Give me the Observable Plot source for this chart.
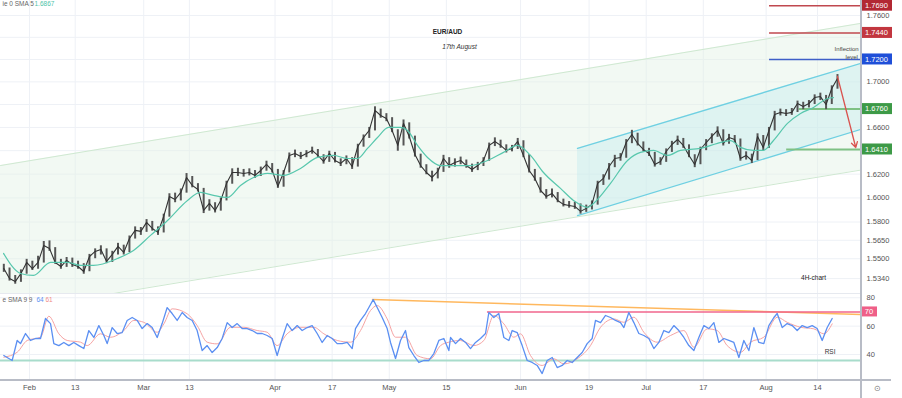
<!DOCTYPE html>
<html><head><meta charset="utf-8">
<script src="https://cdn.jsdelivr.net/npm/d3@7"></script>
<script src="https://cdn.jsdelivr.net/npm/@observablehq/plot@0.6"></script>
<style>
body{margin:0;background:#fff;font-family:"Liberation Sans",Arial,sans-serif}
#wrap{position:relative;width:902px;height:398px;overflow:hidden;background:#fff}
#wrap svg{position:absolute;left:0}
.vline{position:absolute;left:860px;top:0;width:1.5px;height:398px;background:#b8bcc6}
.hline{position:absolute;left:0;top:379px;width:891px;height:1.5px;background:#b8bcc6}
.sep{position:absolute;left:0;top:293px;width:860px;height:1px;background:#e6e9ef}
</style></head><body><div id="wrap"></div>
<script>
// ---------- DATA ----------
const firstDay = "2023-01-25", lastDay = "2023-08-17";
const tickDates = ["2023-02-01","2023-02-13","2023-03-01","2023-03-13","2023-04-03","2023-04-17","2023-05-01","2023-05-15","2023-06-01","2023-06-19","2023-07-03","2023-07-17","2023-08-01","2023-08-14"];
const tickLabels = ["Feb","13","Mar","13","Apr","17","May","15","Jun","19","Jul","17","Aug","14"];
const priceGrid = [1.76,1.74,1.72,1.70,1.68,1.66,1.64,1.62,1.60,1.58,1.565,1.55,1.534];
const priceTickLabels = [1.76,1.70,1.66,1.62,1.60,1.58,1.565,1.55,1.534];
const rsiTicks = [80,60,40];

const closes = [1.5421,1.5340,1.5316,1.5381,1.5470,1.5421,1.5470,1.5608,1.5583,1.5470,
1.5437,1.5486,1.5454,1.5437,1.5397,1.5518,1.5559,1.5575,1.5478,1.5535,
1.5600,1.5551,1.5665,1.5731,1.5723,1.5797,1.5747,1.5715,1.5846,1.6012,
1.5987,1.6046,1.6172,1.6105,1.6071,1.5896,1.5954,1.5896,1.5979,1.6122,
1.6214,1.6214,1.6206,1.6214,1.6189,1.6231,1.6282,1.6231,1.6097,1.6214,
1.6359,1.6376,1.6350,1.6376,1.6402,1.6359,1.6308,1.6376,1.6316,1.6291,
1.6333,1.6265,1.6436,1.6513,1.6574,1.6748,1.6704,1.6678,1.6574,1.6445,
1.6635,1.6522,1.6367,1.6273,1.6214,1.6172,1.6223,1.6333,1.6273,1.6299,
1.6316,1.6273,1.6240,1.6273,1.6316,1.6445,1.6479,1.6445,1.6402,1.6419,
1.6479,1.6359,1.6231,1.6164,1.6063,1.6012,1.6038,1.5979,1.5946,1.5937,
1.5929,1.5888,1.5913,1.5946,1.6122,1.6164,1.6265,1.6333,1.6342,1.6470,
1.6539,1.6462,1.6410,1.6376,1.6282,1.6308,1.6393,1.6453,1.6496,1.6445,
1.6359,1.6282,1.6410,1.6470,1.6522,1.6574,1.6462,1.6513,1.6496,1.6333,
1.6359,1.6316,1.6522,1.6428,1.6574,1.6713,1.6731,1.6722,1.6731,1.6809,
1.6783,1.6809,1.6861,1.6870,1.6800,1.6941,1.7030];
const highs = [1.5455,1.5425,1.5365,1.5410,1.5495,1.5480,1.5520,1.5640,1.5645,1.5590,
1.5495,1.5510,1.5505,1.5480,1.5460,1.5535,1.5580,1.5605,1.5580,1.5560,
1.5625,1.5610,1.5685,1.5760,1.5755,1.5820,1.5805,1.5760,1.5865,1.6035,
1.6040,1.6075,1.6205,1.6180,1.6120,1.6080,1.5985,1.5960,1.6000,1.6140,
1.6245,1.6250,1.6240,1.6245,1.6230,1.6260,1.6310,1.6290,1.6240,1.6230,
1.6380,1.6405,1.6385,1.6400,1.6430,1.6410,1.6365,1.6395,1.6385,1.6330,
1.6355,1.6340,1.6455,1.6535,1.6600,1.6780,1.6760,1.6720,1.6685,1.6580,
1.6665,1.6640,1.6525,1.6370,1.6280,1.6225,1.6250,1.6360,1.6340,1.6330,
1.6345,1.6320,1.6285,1.6300,1.6340,1.6465,1.6510,1.6490,1.6450,1.6445,
1.6505,1.6485,1.6365,1.6240,1.6170,1.6070,1.6075,1.6045,1.5990,1.5970,
1.5965,1.5950,1.5940,1.5975,1.6140,1.6195,1.6290,1.6360,1.6375,1.6495,
1.6575,1.6550,1.6475,1.6420,1.6385,1.6340,1.6415,1.6480,1.6525,1.6505,
1.6450,1.6365,1.6430,1.6495,1.6545,1.6605,1.6580,1.6540,1.6530,1.6500,
1.6390,1.6370,1.6545,1.6530,1.6600,1.6740,1.6760,1.6755,1.6765,1.6830,
1.6820,1.6835,1.6885,1.6900,1.6880,1.6965,1.7065];
const lows = [1.5390,1.5320,1.5295,1.5310,1.5375,1.5405,1.5415,1.5465,1.5560,1.5455,
1.5415,1.5430,1.5430,1.5415,1.5375,1.5395,1.5500,1.5530,1.5460,1.5470,
1.5530,1.5530,1.5550,1.5660,1.5690,1.5715,1.5725,1.5690,1.5710,1.5840,
1.5960,1.5975,1.6040,1.6085,1.6050,1.5870,1.5890,1.5875,1.5890,1.5975,
1.6115,1.6180,1.6175,1.6185,1.6165,1.6180,1.6225,1.6210,1.6080,1.6090,
1.6210,1.6340,1.6325,1.6340,1.6370,1.6340,1.6285,1.6300,1.6295,1.6265,
1.6280,1.6240,1.6260,1.6430,1.6505,1.6570,1.6680,1.6650,1.6555,1.6395,
1.6440,1.6500,1.6345,1.6250,1.6195,1.6135,1.6160,1.6215,1.6250,1.6260,
1.6280,1.6250,1.6215,1.6230,1.6265,1.6310,1.6435,1.6420,1.6380,1.6390,
1.6410,1.6340,1.6210,1.6140,1.6040,1.5990,1.6000,1.5960,1.5925,1.5915,
1.5905,1.5865,1.5880,1.5900,1.5940,1.6105,1.6150,1.6255,1.6310,1.6335,
1.6460,1.6440,1.6390,1.6350,1.6260,1.6275,1.6300,1.6385,1.6445,1.6420,
1.6340,1.6255,1.6280,1.6400,1.6460,1.6515,1.6440,1.6455,1.6470,1.6310,
1.6320,1.6290,1.6315,1.6400,1.6420,1.6570,1.6700,1.6695,1.6705,1.6730,
1.6755,1.6770,1.6800,1.6835,1.6755,1.6800,1.6935];

// SMA 5 (teal) read at bar positions
const smaPos = [0.45,3.42,5.70,8.68,11.66,13.93,16.21,20.41,23.21,26.19,29.17,32.67,34.95,37.22,39.68,41.95,44.23,46.68,49.48,52.46,55.44,58.24,60.69,62.44,64.19,65.94,67.87,69.97,71.20,72.95,74.70,76.98,79.96,82.23,85.21,88.01,90.46,92.74,95.01,97.99,100.27,102.72,103.77,106.75,109.73,112.00,114.28,116.73,119.00,122.51,125.48,127.76,129.51,131.79,133.54,135.29,137.74,140.03,142.30,144.75,145.80];
const smaVal = [1.5543,1.5381,1.5365,1.5470,1.5470,1.5446,1.5446,1.5502,1.5567,1.5690,1.5813,1.5979,1.6046,1.6021,1.6004,1.6105,1.6172,1.6206,1.6189,1.6248,1.6342,1.6359,1.6333,1.6333,1.6419,1.6513,1.6600,1.6600,1.6574,1.6445,1.6342,1.6273,1.6273,1.6273,1.6316,1.6385,1.6445,1.6359,1.6214,1.6080,1.5979,1.5921,1.5954,1.6122,1.6316,1.6385,1.6402,1.6359,1.6402,1.6419,1.6462,1.6487,1.6428,1.6402,1.6402,1.6487,1.6635,1.6722,1.6774,1.6853,1.6861];

// RSI (blue)
const rsiPos = [0.50,1.96,2.84,3.42,4.30,5.17,6.05,6.93,7.80,8.68,9.26,10.14,11.01,11.89,12.76,13.64,14.51,15.39,16.27,17.14,18.02,18.60,19.48,20.35,21.23,22.10,22.98,23.86,24.73,25.61,26.48,27.36,28.23,29.11,29.98,30.86,31.74,32.61,33.49,34.36,35.24,36.11,36.99,37.87,38.74,39.62,40.49,41.37,42.24,43.12,44.00,44.87,45.75,46.62,47.50,48.37,49.25,50.12,51.00,51.88,52.75,53.63,54.50,55.38,56.25,57.13,58.01,58.88,59.76,60.63,61.51,62.09,62.97,63.84,64.43,65.19,65.89,66.76,67.64,68.22,69.10,69.97,70.85,71.43,72.31,73.18,74.06,74.94,75.81,76.69,77.56,78.44,
78.73,79.61,80.48,81.36,82.23,83.11,83.98,84.86,85.44,86.32,87.19,88.07,88.95,89.53,90.41,91.28,92.16,93.03,93.91,94.78,95.66,96.54,97.41,98.29,99.16,100.04,100.91,101.79,102.66,103.54,104.12,105.00,105.88,106.75,107.63,108.50,109.09,109.96,110.84,111.71,112.59,113.46,114.34,115.22,116.09,116.97,117.84,118.72,119.60,120.47,121.35,122.22,123.10,123.97,124.85,125.72,126.60,127.47,128.35,129.23,130.10,130.98,131.85,132.73,133.60,134.48,135.36,135.94,136.82,137.69,138.57,139.44,140.32,141.19,142.07,142.94,143.82,144.70,145.57];
const rsiVal = [39.3,35.8,49.9,47.7,54.8,49.9,51.3,51.3,65.4,61.8,47.7,46.3,48.5,46.3,48.5,46.3,44.2,56.9,52.0,60.4,53.4,47.7,59.0,54.8,55.5,64.0,66.1,64.0,58.3,61.8,59.0,52.0,61.8,73.1,68.9,64.0,69.6,66.1,64.0,56.9,42.8,46.3,41.4,44.9,51.3,62.5,59.0,61.8,58.3,58.3,56.9,54.8,54.8,53.4,51.3,39.3,51.3,61.8,56.9,60.4,56.9,59.0,60.4,54.8,48.5,53.4,51.3,47.7,47.7,48.5,44.2,58.3,64.0,68.9,73.1,78.7,73.1,66.1,58.3,48.5,37.2,49.9,56.9,44.9,39.3,34.4,35.8,35.8,40.7,49.9,51.3,42.8,
52.0,47.7,51.3,48.5,44.2,48.5,51.3,54.8,69.6,66.1,68.9,52.0,49.9,56.9,55.5,46.3,35.8,34.4,32.3,26.6,35.8,37.9,30.8,32.3,35.8,34.4,37.9,41.4,47.7,51.3,64.0,62.5,67.5,66.1,64.0,62.5,59.0,69.6,62.5,54.8,53.4,51.3,44.2,48.5,56.9,55.5,60.4,56.9,52.0,46.3,42.8,52.0,60.4,58.3,62.5,48.5,51.3,49.9,48.5,37.9,49.9,42.8,59.0,48.5,47.7,60.4,66.1,68.9,59.0,61.8,60.4,56.9,60.4,59.0,60.4,58.3,49.9,59.0,65.4];

// SMA 9 of RSI (pink)
const rsiSmaPos = [0.50,2.84,4.59,6.93,8.38,10.14,11.60,13.93,15.10,17.43,19.18,21.52,23.27,25.02,27.36,28.53,29.98,32.61,34.36,36.11,37.87,40.20,42.54,44.87,46.62,48.37,50.12,52.46,54.79,56.55,58.88,61.22,62.97,64.72,65.89,67.64,69.10,70.85,72.89,75.23,76.98,78.44,
80.48,82.82,84.57,86.32,88.07,89.82,90.99,92.74,94.78,96.83,98.58,100.91,103.25,105.00,107.34,109.09,110.84,112.59,114.92,117.26,119.60,121.35,123.68,125.43,127.18,129.52,131.27,133.60,135.94,137.69,140.03,142.36,144.11,145.57];
const rsiSmaVal = [38.1,41.6,49.9,52.2,67.0,54.6,49.9,48.7,46.3,54.6,52.2,56.9,64.0,62.7,55.7,61.6,72.2,68.7,60.4,48.7,47.5,59.2,59.2,56.9,55.7,46.3,54.6,59.2,59.2,54.6,49.9,48.7,56.9,71.0,74.5,65.1,52.2,52.2,39.3,37.0,46.3,48.7,
49.9,46.3,49.9,67.5,61.6,52.2,54.6,39.3,32.3,37.0,33.4,37.0,46.3,59.2,65.1,62.7,66.3,55.7,48.7,53.4,56.9,45.1,58.1,56.9,46.3,41.6,48.7,52.2,66.3,62.7,59.2,58.1,54.6,61.6];

// Drawn channels and levels (bar position, price)
const outerChannelPos = [-0.08, 150.53];
const outerUpper = [1.6273, 1.7527];
const outerLower = [1.5074, 1.6234];
const innerChannelPos = [100.97, 150.53];
const innerUpper = [1.6419, 1.7164];
const innerLower = [1.5853, 1.6582];
const levelValues = [1.7690, 1.7440, 1.7200, 1.6760, 1.6410];
const levelFrom = [134.6, 134.6, 134.6, 139.8, 137.6];
const arrowFrom = [146.5, 1.7048], arrowTo = [149.7, 1.6427];
const rsiOverbought = 70, rsiLowLine = 35.8;
const rsiTrendPos = [65.07, 150.53], rsiTrendVal = [78.7, 68.2];

// ---------- BUILD ----------
const days = d3.utcDay.range(new Date(firstDay), d3.utcDay.offset(new Date(lastDay), 1))
  .filter(d => d.getUTCDay() !== 0 && d.getUTCDay() !== 6);
const dayKey = d3.utcFormat("%Y-%m-%d");
const dayIndex = new Map(days.map((d, i) => [dayKey(d), i]));
const bars = days.map((d, i) => ({pos: i + 0.5, close: closes[i], high: highs[i], low: lows[i]}));
const tickPos = tickDates.map(t => dayIndex.get(t));
const tickLabelAt = new Map(tickPos.map((p, i) => [p, tickLabels[i]]));
const sma = smaPos.map((p, i) => ({pos: p, v: smaVal[i]}));
const rsi = rsiPos.map((p, i) => ({pos: p, v: rsiVal[i]}));
const rsiSma = rsiSmaPos.map((p, i) => ({pos: p, v: rsiSmaVal[i]}));
const outer = outerChannelPos.map((p, i) => ({pos: p, lo: outerLower[i], hi: outerUpper[i]}));
const inner = innerChannelPos.map((p, i) => ({pos: p, lo: innerLower[i], hi: innerUpper[i]}));
const levels = levelValues.map((v, i) => ({v, from: levelFrom[i]}));
const rsiTrend = rsiTrendPos.map((p, i) => ({pos: p, v: rsiTrendVal[i]}));

const W = 902, R = 42, xDomain = [-0.08, 150.53];
const FONT = "Liberation Sans, Arial, sans-serif";
const grid = "#eef1f6";
const levelStroke = ["#c0484f", "#c0484f", "#3f5fc8", "#7fc184", "#7fc184"];
const levelFill = ["#b22833", "#c2363f", "#1f4fd8", "#3d9a47", "#3d9a47"];
const fmt4 = d3.format(".4f");

const main = Plot.plot({
  width: W, height: 293, marginLeft: 0, marginRight: R, marginTop: 0, marginBottom: 0,
  x: {domain: xDomain, axis: null},
  y: {type: "log", domain: [1.5221, 1.7738], axis: null},
  style: {fontFamily: FONT, fontSize: "7.5px", color: "#555", background: "transparent"},
  marks: [
    Plot.ruleX(tickPos, {stroke: grid}),
    Plot.ruleY(priceGrid, {stroke: grid}),
    Plot.areaY(outer, {x: "pos", y1: "lo", y2: "hi", fill: "#e3f2e5", fillOpacity: 0.45, clip: true}),
    Plot.line(outer, {x: "pos", y: "hi", stroke: "#cfe8d1", strokeWidth: 1, clip: true}),
    Plot.line(outer, {x: "pos", y: "lo", stroke: "#cfe8d1", strokeWidth: 1, clip: true}),
    Plot.areaY(inner, {x: "pos", y1: "lo", y2: "hi", fill: "#b9e8ef", fillOpacity: 0.35, clip: true}),
    Plot.line(inner, {x: "pos", y: "hi", stroke: "#6fd0e2", strokeWidth: 1.3, clip: true}),
    Plot.line(inner, {x: "pos", y: "lo", stroke: "#6fd0e2", strokeWidth: 1.3, clip: true}),
    Plot.ruleY(levels, {y: "v", x1: "from", x2: xDomain[1], stroke: (d, i) => levelStroke[i], strokeWidth: (d, i) => i > 2 ? 2 : 1.5, clip: true}),
    Plot.ruleX(bars, {x: "pos", y1: "low", y2: "high", stroke: "#555", strokeWidth: 2}),
    Plot.line(bars, {x: "pos", y: "close", stroke: "#333", strokeWidth: 1.1}),
    Plot.line(sma, {x: "pos", y: "v", stroke: "#58c7ad", strokeWidth: 1.2, curve: "monotone-x"}),
    Plot.arrow([0], {x1: arrowFrom[0], y1: arrowFrom[1], x2: arrowTo[0], y2: arrowTo[1], stroke: "#d9534f", strokeWidth: 1.3, headLength: 7}),
    Plot.axisY({anchor: "right", label: null, ticks: priceTickLabels, tickFormat: fmt4, tickSize: 0, tickPadding: 6, fontSize: 7.5, fill: "#555"}),
    Plot.text(["EUR/AUD"], {x: 78.2, y: 1.7453, fontSize: 6.5, fontWeight: "bold", fill: "#222"}),
    Plot.text(["17th August"], {x: 80.3, y: 1.7309, fontSize: 6.5, fontStyle: "italic", fill: "#333"}),
    Plot.text(["4H-chart"], {x: 142.3, y: 1.5348, fontSize: 6.5, fill: "#222"}),
    Plot.text(["Inflection"], {x: 148.1, y: 1.7290, fontSize: 6, fill: "#444"}),
    Plot.text(["level"], {x: 149.0, y: 1.7225, fontSize: 6, fill: "#444"}),
    Plot.text(["ie 0 SMA 5"], {frameAnchor: "top-left", dx: 2, dy: 1, fontSize: 6.5, fill: "#666"}),
    Plot.text(["1.6867"], {frameAnchor: "top-left", dx: 34, dy: 1, fontSize: 6.5, fill: "#4fc3a8"})
  ]
});
main.style.top = "0px";

const rsiChart = Plot.plot({
  width: W, height: 105, marginLeft: 0, marginRight: R, marginTop: 0, marginBottom: 19,
  x: {domain: xDomain, label: null},
  y: {domain: [22.4, 83.0], axis: null, label: null},
  style: {fontFamily: FONT, fontSize: "7.5px", color: "#555", background: "transparent"},
  marks: [
    Plot.ruleX(tickPos, {stroke: grid}),
    Plot.ruleY(rsiTicks, {stroke: grid}),
    Plot.ruleY([rsiLowLine], {x1: xDomain[0], x2: xDomain[1], stroke: "#a8dccb", strokeWidth: 2}),
    Plot.line(rsiTrend, {x: "pos", y: "v", stroke: "#ffb85e", strokeWidth: 1.5}),
    Plot.ruleY([rsiOverbought], {x1: 85.2, x2: xDomain[1], stroke: "#f0668c", strokeWidth: 1.5}),
    Plot.line(rsiSma, {x: "pos", y: "v", stroke: "#f6a3a3", strokeWidth: 1, curve: "monotone-x"}),
    Plot.line(rsi, {x: "pos", y: "v", stroke: "#5b8ff2", strokeWidth: 1.3}),
    Plot.axisY({anchor: "right", label: null, ticks: rsiTicks, tickSize: 0, tickPadding: 6, fontSize: 7.5, fill: "#555"}),
    Plot.axisX({label: null, ticks: tickPos, tickFormat: d => tickLabelAt.get(d), tickSize: 0, tickPadding: 5, fontSize: 7.5, fill: "#555"}),
    Plot.text(["RSI"], {x: 145.2, y: 42.0, fontSize: 6.5, fill: "#333"}),
    Plot.text(["e SMA 9 9"], {frameAnchor: "top-left", dx: 2, dy: 4, fontSize: 6.5, fill: "#666"}),
    Plot.text(["64"], {frameAnchor: "top-left", dx: 36, dy: 4, fontSize: 6.5, fill: "#5b8ff2"}),
    Plot.text(["61"], {frameAnchor: "top-left", dx: 45, dy: 4, fontSize: 6.5, fill: "#f08a8a"})
  ]
});
rsiChart.style.top = "293px";

const wrap = document.getElementById("wrap");
wrap.appendChild(main);
wrap.appendChild(rsiChart);
["sep", "vline", "hline"].forEach(c => { const d = document.createElement("div"); d.className = c; wrap.appendChild(d); });

// value boxes on the right price scale
const ys = main.scale("y");
const gm = d3.select(main).append("g").attr("font-family", FONT);
levelValues.forEach((v, i) => {
  const y = ys.apply(v);
  gm.append("rect").attr("x", 861).attr("y", y - 5.5).attr("width", 31).attr("height", 11).attr("fill", levelFill[i]);
  gm.append("text").attr("x", 876.5).attr("y", y).attr("dy", "0.35em").attr("text-anchor", "middle")
    .attr("fill", "#fff").attr("font-size", 7.5).text(fmt4(v));
});
const yr = rsiChart.scale("y");
const gr = d3.select(rsiChart).append("g").attr("font-family", FONT);
gr.append("rect").attr("x", 861).attr("y", yr.apply(rsiOverbought) - 5).attr("width", 16).attr("height", 10).attr("fill", "#ef5f88");
gr.append("text").attr("x", 869).attr("y", yr.apply(rsiOverbought)).attr("dy", "0.35em").attr("text-anchor", "middle")
  .attr("fill", "#fff").attr("font-size", 7.5).text(String(rsiOverbought));
gr.append("text").attr("x", 877).attr("y", 95).attr("dy", "0.35em").attr("text-anchor", "middle").attr("fill", "#777").attr("font-size", 8).text("⊙");
</script></body></html>
